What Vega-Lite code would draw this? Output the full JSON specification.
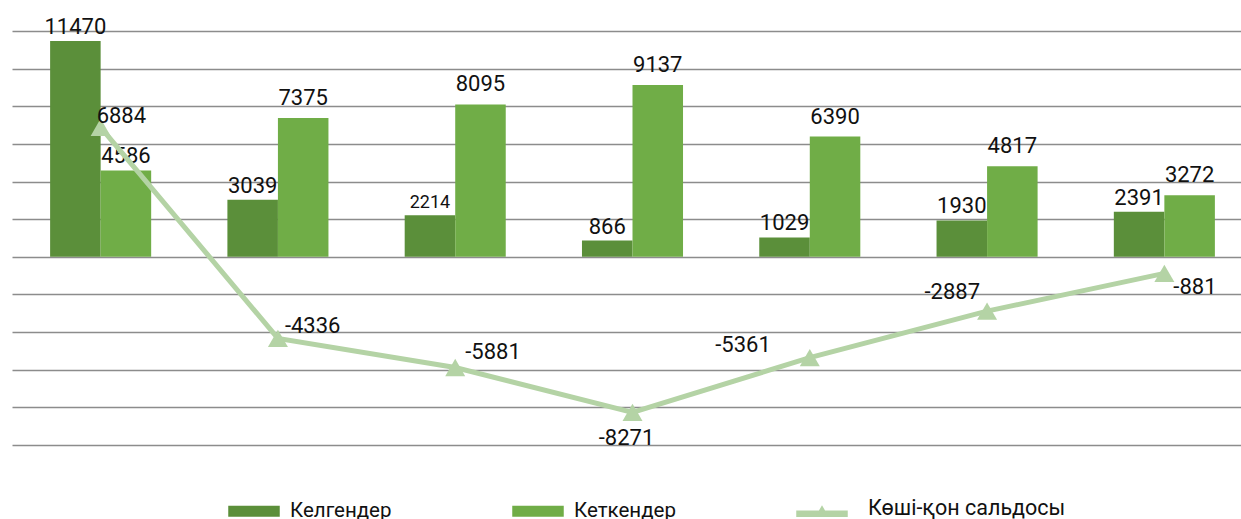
{
  "$schema": "https://vega.github.io/schema/vega-lite/v6.json",
  "width": 1241,
  "height": 414,
  "autosize": {"type": "none"},
  "padding": {"left": 12, "top": 31, "right": 0, "bottom": 74},
  "config": {"view": {"stroke": null}, "font": "Roboto", "text": {"font": "Roboto", "color": "#111111"}},
  "datasets": {
    "bars": [
      {"cat": "1", "series": "Келгендер", "value": 11470},
      {"cat": "1", "series": "Кеткендер", "value": 4586},
      {"cat": "2", "series": "Келгендер", "value": 3039},
      {"cat": "2", "series": "Кеткендер", "value": 7375},
      {"cat": "3", "series": "Келгендер", "value": 2214},
      {"cat": "3", "series": "Кеткендер", "value": 8095},
      {"cat": "4", "series": "Келгендер", "value": 866},
      {"cat": "4", "series": "Кеткендер", "value": 9137},
      {"cat": "5", "series": "Келгендер", "value": 1029},
      {"cat": "5", "series": "Кеткендер", "value": 6390},
      {"cat": "6", "series": "Келгендер", "value": 1930},
      {"cat": "6", "series": "Кеткендер", "value": 4817},
      {"cat": "7", "series": "Келгендер", "value": 2391},
      {"cat": "7", "series": "Кеткендер", "value": 3272}
    ],
    "balance": [
      {"cat": "1", "series": "Көші-қон сальдосы", "value": 6884},
      {"cat": "2", "series": "Көші-қон сальдосы", "value": -4336},
      {"cat": "3", "series": "Көші-қон сальдосы", "value": -5881},
      {"cat": "4", "series": "Көші-қон сальдосы", "value": -8271},
      {"cat": "5", "series": "Көші-қон сальдосы", "value": -5361},
      {"cat": "6", "series": "Көші-қон сальдосы", "value": -2887},
      {"cat": "7", "series": "Көші-қон сальдосы", "value": -881}
    ]
  },
  "encoding": {
    "x": {
      "field": "cat", "type": "nominal",
      "sort": ["1", "2", "3", "4", "5", "6", "7"],
      "scale": {"paddingInner": 0.43, "paddingOuter": 0.215},
      "axis": null
    },
    "y": {
      "field": "value", "type": "quantitative",
      "scale": {"domain": [-10000, 12000], "nice": false},
      "axis": {
        "values": [-10000, -8000, -6000, -4000, -2000, 0, 2000, 4000, 6000, 8000, 10000, 12000],
        "labels": false, "ticks": false, "domain": false, "grid": true,
        "gridColor": "#8c8c8c", "gridWidth": 1.5, "title": null
      }
    }
  },
  "layer": [
    {
      "data": {"name": "bars"},
      "mark": {"type": "bar"},
      "encoding": {
        "xOffset": {"field": "series", "type": "nominal", "sort": ["Келгендер", "Кеткендер"], "scale": {"paddingInner": 0, "paddingOuter": 0}},
        "color": {
          "field": "series", "type": "nominal",
          "scale": {"domain": ["Келгендер", "Кеткендер", "Көші-қон сальдосы"], "range": ["#5b8f3a", "#70ad47", "#b4d3a5"]},
          "legend": {
            "orient": "none", "legendX": 216, "legendY": 454,
            "direction": "horizontal", "title": null,
            "symbolSize": 2500, "labelFontSize": 20.5, "labelFont": "Roboto", "labelColor": "#111111",
            "labelLimit": 400,
            "gridAlign": "all", "columnPadding": 12, "labelOffset": 10,
            "encode": {
              "symbols": {
                "update": {
                  "shape": {"signal": "datum.value === 'Көші-қон сальдосы' ? 'M-1,-0.1H1V0.1H-1Z M-0.22,0.1L0,-0.28L0.22,0.1Z' : 'M-1,-0.19H1V0.19H-1Z'"},
                  "fill": {"scale": "color", "field": "value"},
                  "stroke": {"value": "transparent"},
                  "opacity": {"value": 1},
                  "fillOpacity": {"value": 1}
                }
              },
              "labels": {
                "update": {
                  "dy": {"signal": "datum.value === 'Көші-қон сальдосы' ? -5 : 0"},
                  "dx": {"signal": "datum.value === 'Көші-қон сальдосы' ? 10 : 0"},
                  "fontSize": {"signal": "datum.value === 'Көші-қон сальдосы' ? 21.5 : 20.5"}
                }
              }
            }
          }
        }
      }
    },
    {
      "data": {"name": "bars"},
      "transform": [{"filter": "datum.series === 'Келгендер'"}],
      "mark": {"type": "text", "baseline": "alphabetic", "dy": -7},
      "encoding": {
        "xOffset": {"field": "series", "type": "nominal", "sort": ["Келгендер", "Кеткендер"]},
        "text": {"field": "value", "type": "nominal"},
        "size": {"condition": {"test": "datum.cat === '3'", "value": 18}, "value": 22}
      }
    },
    {
      "data": {"name": "bars"},
      "transform": [{"filter": "datum.series === 'Кеткендер' && datum.cat !== '1'"}],
      "mark": {"type": "text", "baseline": "alphabetic", "dy": -13, "fontSize": 22},
      "encoding": {
        "xOffset": {"field": "series", "type": "nominal", "sort": ["Келгендер", "Кеткендер"]},
        "text": {"field": "value", "type": "nominal"}
      }
    },
    {
      "data": {"name": "bars"},
      "transform": [{"filter": "datum.series === 'Кеткендер' && datum.cat === '1'"}],
      "mark": {"type": "text", "baseline": "alphabetic", "dy": -8, "fontSize": 22},
      "encoding": {
        "xOffset": {"field": "series", "type": "nominal", "sort": ["Келгендер", "Кеткендер"]},
        "text": {"field": "value", "type": "nominal"}
      }
    },
    {
      "data": {"name": "balance"},
      "mark": {"type": "line", "strokeWidth": 5, "point": {"shape": "triangle-up", "size": 400, "filled": true, "opacity": 1}},
      "encoding": {
        "color": {"field": "series", "type": "nominal"}
      }
    },
    {
      "data": {"name": "balance"},
      "transform": [{"filter": "datum.cat === '1'"}],
      "mark": {"type": "text", "align": "left", "baseline": "alphabetic", "dx": -4, "dy": -4, "fontSize": 22},
      "encoding": {"text": {"field": "value", "type": "nominal"}}
    },
    {
      "data": {"name": "balance"},
      "transform": [{"filter": "datum.cat === '2'"}],
      "mark": {"type": "text", "align": "left", "baseline": "alphabetic", "dx": 7, "dy": -5, "fontSize": 22},
      "encoding": {"text": {"field": "value", "type": "nominal"}}
    },
    {
      "data": {"name": "balance"},
      "transform": [{"filter": "datum.cat === '3'"}],
      "mark": {"type": "text", "align": "left", "baseline": "alphabetic", "dx": 10, "dy": -8, "fontSize": 22},
      "encoding": {"text": {"field": "value", "type": "nominal"}}
    },
    {
      "data": {"name": "balance"},
      "transform": [{"filter": "datum.cat === '4'"}],
      "mark": {"type": "text", "align": "center", "baseline": "alphabetic", "dx": -6, "dy": 33, "fontSize": 22},
      "encoding": {"text": {"field": "value", "type": "nominal"}}
    },
    {
      "data": {"name": "balance"},
      "transform": [{"filter": "datum.cat === '5'"}],
      "mark": {"type": "text", "align": "right", "baseline": "alphabetic", "dx": -39, "dy": -6, "fontSize": 22},
      "encoding": {"text": {"field": "value", "type": "nominal"}}
    },
    {
      "data": {"name": "balance"},
      "transform": [{"filter": "datum.cat === '6'"}],
      "mark": {"type": "text", "align": "right", "baseline": "alphabetic", "dx": -7, "dy": -12, "fontSize": 22},
      "encoding": {"text": {"field": "value", "type": "nominal"}}
    },
    {
      "data": {"name": "balance"},
      "transform": [{"filter": "datum.cat === '7'"}],
      "mark": {"type": "text", "align": "left", "baseline": "alphabetic", "dx": 9, "dy": 21, "fontSize": 22},
      "encoding": {"text": {"field": "value", "type": "nominal"}}
    }
  ]
}
